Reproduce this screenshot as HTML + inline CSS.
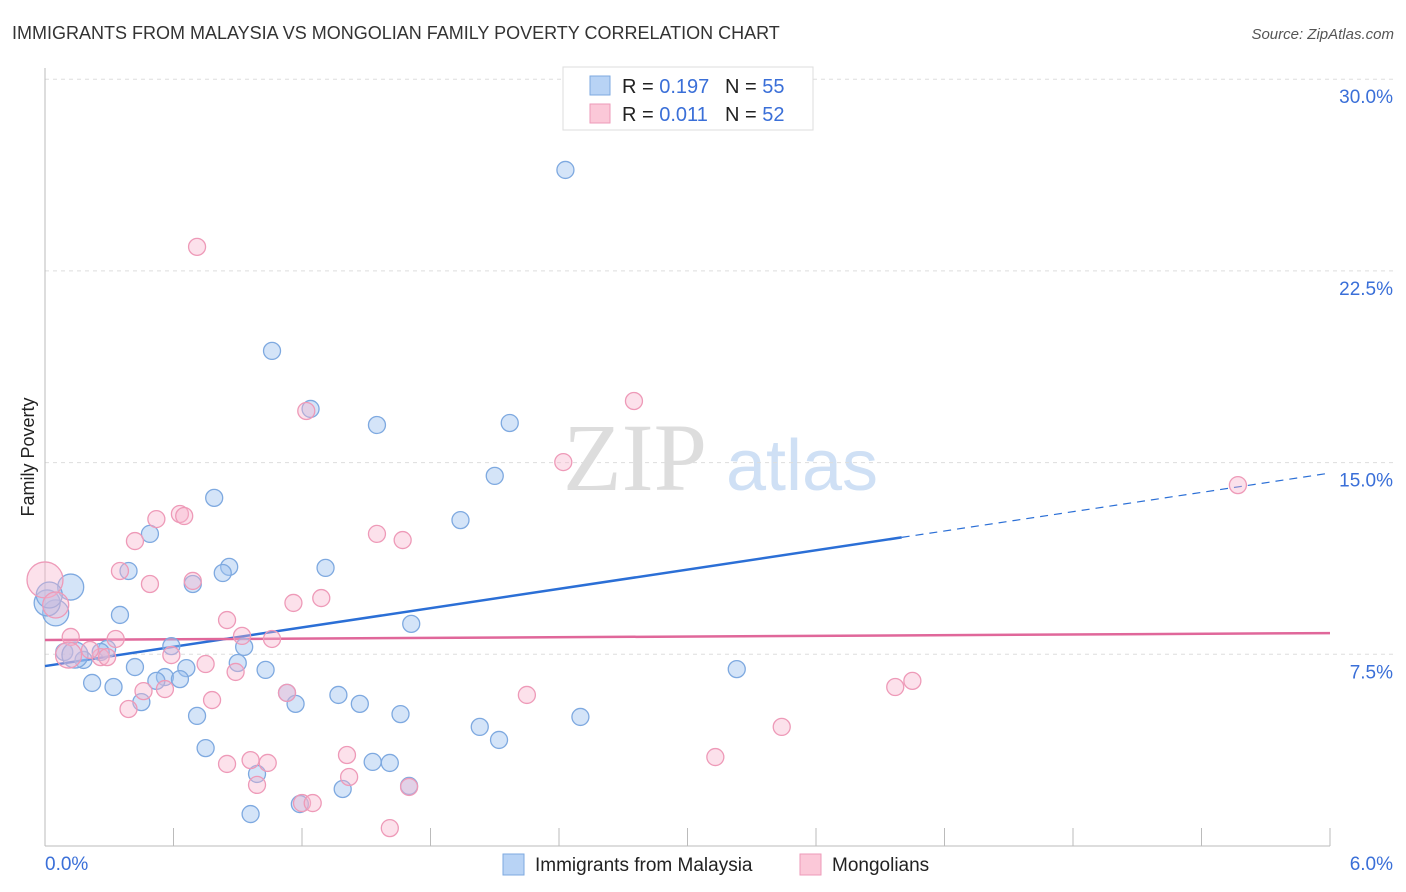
<!DOCTYPE html>
<html><head><meta charset="utf-8"><style>
body{margin:0;background:#fff;font-family:"Liberation Sans",sans-serif;}
svg{display:block}
</style></head><body>
<svg id="chart" width="1406" height="892">
<text x="12" y="39" font-size="18" fill="#333">IMMIGRANTS FROM MALAYSIA VS MONGOLIAN FAMILY POVERTY CORRELATION CHART</text>
<text x="1394" y="39" font-size="15" fill="#555" font-style="italic" text-anchor="end">Source: ZipAtlas.com</text>
<text transform="translate(34,457) rotate(-90)" font-size="18" fill="#222" text-anchor="middle">Family Poverty</text>
<g id="watermark">
<text x="635" y="490" font-size="96" fill="#ddd" font-family="Liberation Serif,serif" text-anchor="middle">ZIP</text>
<text x="802" y="490" font-size="72" fill="#cfe0f5" text-anchor="middle">atlas</text>
</g>
<g id="grid"></g><g id="axes"></g><g id="trends"></g><g id="points"></g>
<g>
<rect x="563" y="67" width="250" height="63" fill="#fff" stroke="#ddd"/>
<rect x="590" y="76" width="20" height="19" fill="#b8d3f5" stroke="#7ea9e0"/>
<rect x="590" y="104" width="20" height="19" fill="#fbc8d8" stroke="#ee9ab8"/>
<text x="622" y="93" font-size="20" fill="#222">R = <tspan fill="#3a6fd8">0.197</tspan><tspan x="725">N = </tspan><tspan fill="#3a6fd8">55</tspan></text>
<text x="622" y="121" font-size="20" fill="#222">R = <tspan fill="#3a6fd8">0.011</tspan><tspan x="725">N = </tspan><tspan fill="#3a6fd8">52</tspan></text>
</g>
<g>
<rect x="503" y="854" width="21" height="21" fill="#b8d3f5" stroke="#7ea9e0"/>
<text x="535" y="871" font-size="19" fill="#222">Immigrants from Malaysia</text>
<rect x="800" y="854" width="21" height="21" fill="#fbc8d8" stroke="#ee9ab8"/>
<text x="832" y="871" font-size="19" fill="#222">Mongolians</text>
</g>
</svg>
<script>
const yTicks=[7.5,15,22.5,30];
const yTickLabels=["7.5%","15.0%","22.5%","30.0%"];
const xLabels=["0.0%","6.0%"];
const blueX=[2.43,1.06,1.24,1.55,2.17,2.10,0.79,1.94,0.49,0.86,1.31,0.83,0.39,0.69,0.12,0.05,0.35,1.71,0.59,0.93,0.29,0.26,0.09,0.18,0.90,0.42,0.66,1.03,3.23,0.56,0.63,0.52,0.22,0.32,1.13,1.37,0.45,1.17,1.47,1.66,0.71,2.50,2.03,2.12,0.75,1.53,1.61,0.99,1.70,1.39,1.19,0.96,0.01,0.02,0.14];
const blueY=[26.45,19.37,17.10,16.47,16.55,14.48,13.62,12.75,12.21,10.92,10.88,10.68,10.76,10.25,10.13,9.12,9.04,8.69,7.82,7.79,7.71,7.59,7.59,7.28,7.16,7.00,6.96,6.89,6.92,6.61,6.53,6.46,6.38,6.22,5.99,5.91,5.63,5.56,5.56,5.16,5.09,5.05,4.66,4.15,3.83,3.29,3.25,2.82,2.35,2.23,1.64,1.25,9.51,9.82,7.47];
const blueBig=[0,0,0,0,0,0,0,0,0,0,0,0,0,0,1,1,0,0,0,0,0,0,0,0,0,0,0,0,0,0,0,0,0,0,0,0,0,0,0,0,0,0,0,0,0,0,0,0,0,0,0,0,1,1,1];
const pinkX=[0.71,2.75,1.22,2.42,5.57,0.63,0.65,0.52,1.55,1.67,0.42,0.35,0.49,0.69,1.16,1.29,0.85,0.92,1.06,0.12,0.33,0.59,0.26,0.75,0.89,3.97,4.05,0.56,0.46,0.78,2.25,0.39,3.44,3.13,1.41,0.96,0.85,1.04,1.42,0.99,1.70,1.20,1.25,1.61,0.0,0.05,0.21,0.29,1.13,0.11];
const pinkY=[23.44,17.41,17.02,15.02,14.12,12.99,12.91,12.79,12.21,11.97,11.93,10.76,10.25,10.37,9.51,9.70,8.84,8.22,8.10,8.18,8.10,7.47,7.39,7.12,6.81,6.22,6.46,6.14,6.06,5.71,5.91,5.36,4.66,3.48,3.56,3.36,3.21,3.25,2.70,2.39,2.31,1.68,1.68,0.70,10.41,9.43,7.67,7.39,5.99,7.47];
const pinkBig=[0,0,0,0,0,0,0,0,0,0,0,0,0,0,0,0,0,0,0,0,0,0,0,0,0,0,0,0,0,0,0,0,0,0,0,0,0,0,0,0,0,0,0,0,2,1,0,0,0,1];
const blueTrend=[7.04,14.59];
const pinkTrend=[8.06,8.33];
const blueSolidEnd=4.0;
const X=v=>45+v/6*1285, Y=v=>846-v/7.5*191.7;
const NS="http://www.w3.org/2000/svg";
function mk(t,a,p){const e=document.createElementNS(NS,t);for(const k in a)e.setAttribute(k,a[k]);document.getElementById(p).appendChild(e);return e;}
yTicks.forEach((t,i)=>{
 const g=mk('line',{x1:45,x2:1394,y1:Y(t),y2:Y(t),stroke:'#ddd','stroke-dasharray':'4,4'},'grid');
 
 
 const l=mk('text',{x:1393,y:Y(t)+24,'font-size':19,fill:'#3a6fd8','text-anchor':'end'},'axes');l.textContent=yTickLabels[i];
 
 
});
const ax=mk('line',{x1:45,x2:1330,y1:846,y2:846,stroke:'#bbb'},'axes');


const ay=mk('line',{x1:45,x2:45,y1:68,y2:846,stroke:'#bbb'},'axes');


for(let i=0;i<=10;i++){const t=mk('line',{x1:X(i*0.6),x2:X(i*0.6),y1:828,y2:846,stroke:'#bbb'},'axes');
 
 }
[[0,'start',45],[6,'end',1393]].forEach((d,i)=>{const l=mk('text',{x:d[2],y:870,'font-size':19,fill:'#3a6fd8','text-anchor':d[1]},'axes');l.textContent=xLabels[i];
 
 });
function pts(xs,ys,big,fill,stroke,name){xs.forEach((x,i)=>{const r=big[i]==2?18:big[i]==1?13:8.5;
 const c=mk('circle',{cx:X(x),cy:Y(ys[i]),r:r,fill:fill,stroke:stroke,'stroke-width':1.3},'points');
 
 });}
pts(blueX,blueY,blueBig,'rgba(160,196,240,0.45)','#7ea9e0','malaysia-point');
pts(pinkX,pinkY,pinkBig,'rgba(248,180,204,0.4)','#ee9ab8','mongolians-point');
const bt=v=>blueTrend[0]+(blueTrend[1]-blueTrend[0])*v/6;
const b1=mk('line',{x1:X(0),y1:Y(bt(0)),x2:X(blueSolidEnd),y2:Y(bt(blueSolidEnd)),stroke:'#2b6fd6','stroke-width':2.5},'trends');


const b2=mk('line',{x1:X(blueSolidEnd),y1:Y(bt(blueSolidEnd)),x2:X(6),y2:Y(bt(6)),stroke:'#2b6fd6','stroke-width':1.2,'stroke-dasharray':'8,6'},'trends');


const p1=mk('line',{x1:X(0),y1:Y(pinkTrend[0]),x2:X(6),y2:Y(pinkTrend[1]),stroke:'#e0679a','stroke-width':2.5},'trends');


</script>
</body></html>
